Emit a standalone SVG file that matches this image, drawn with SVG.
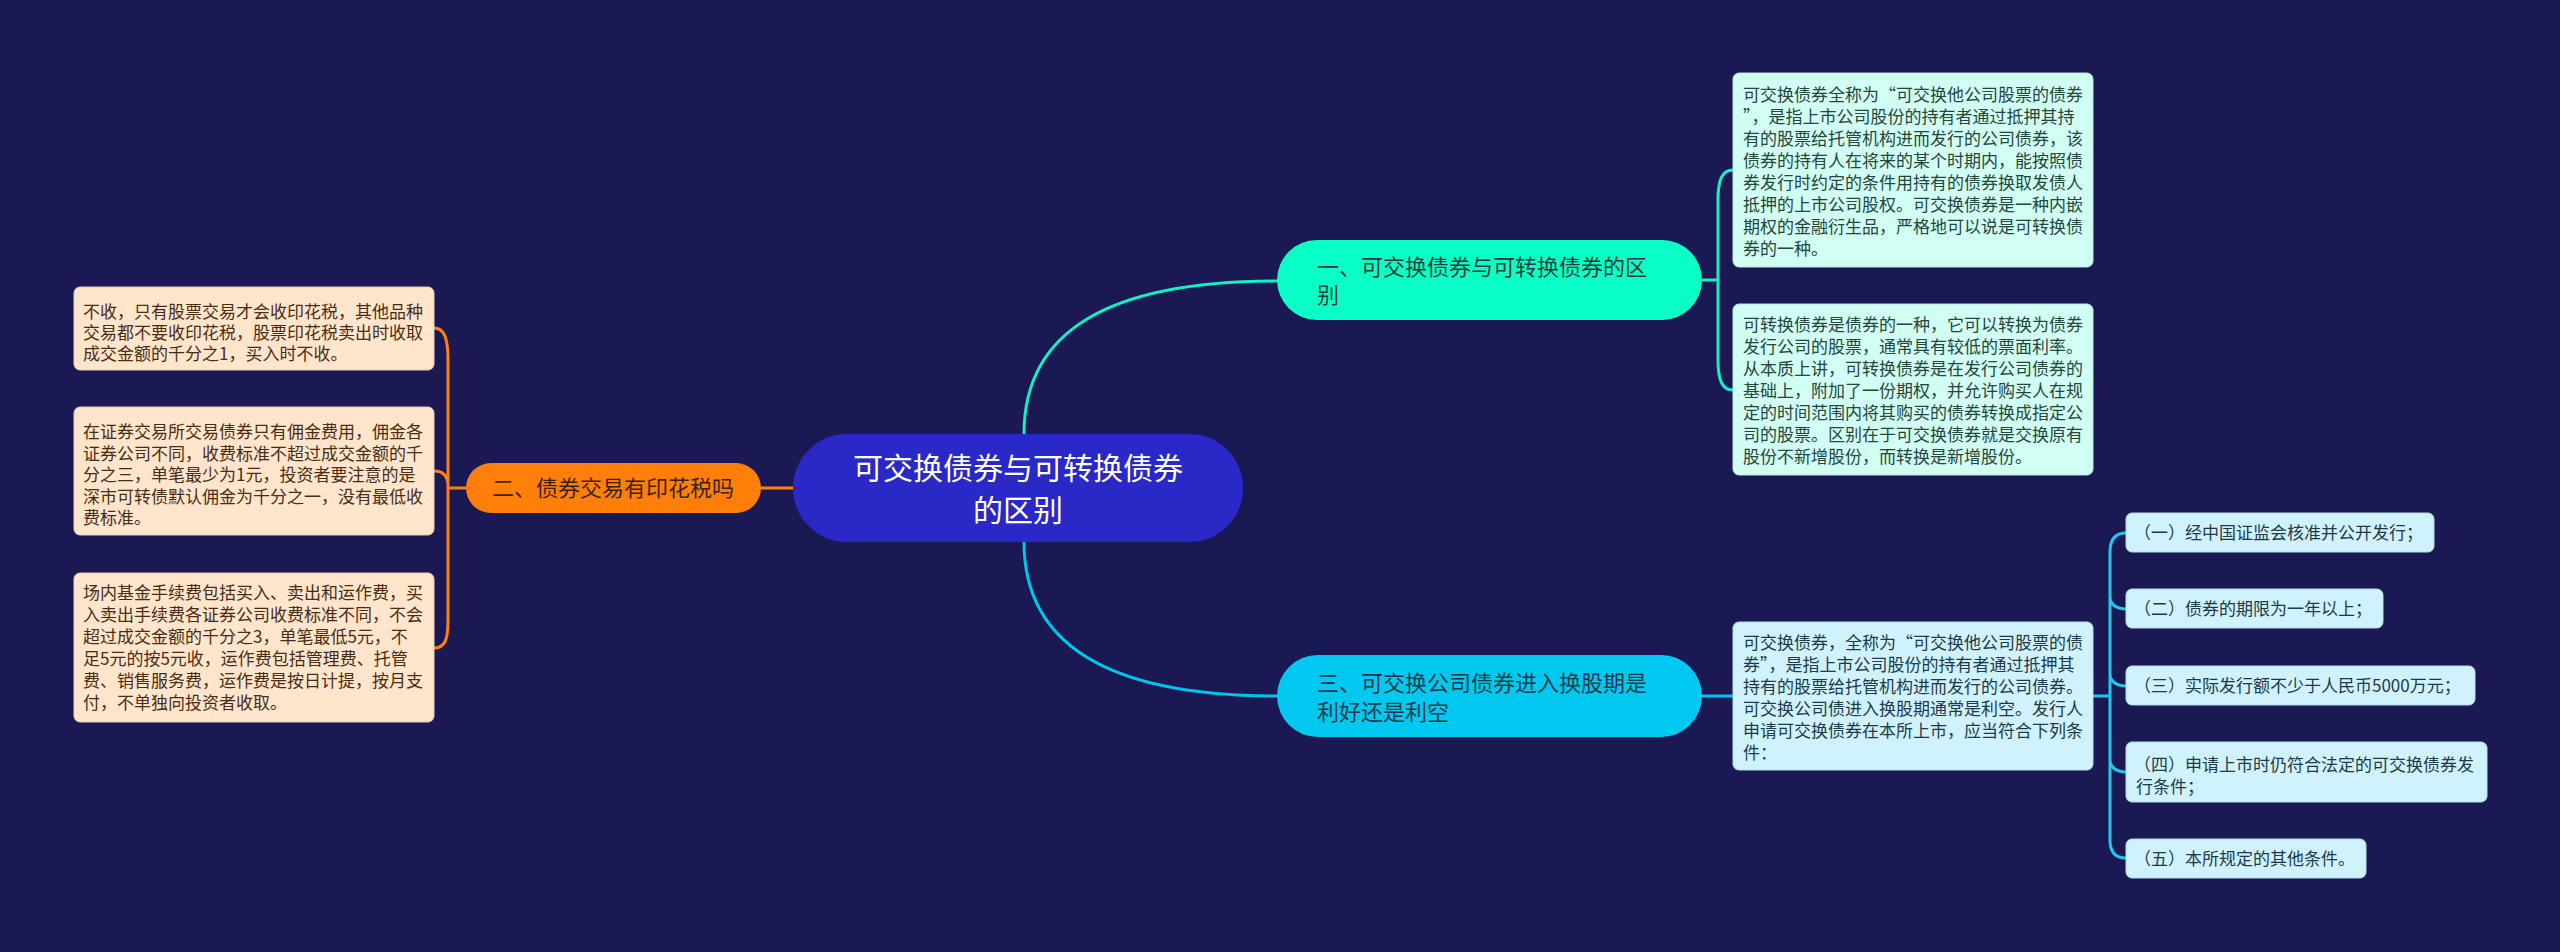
<svg xmlns="http://www.w3.org/2000/svg" width="2560" height="952" viewBox="0 0 2560 952">
<style>
text{font-family:"Noto Sans CJK SC","Noto Sans",sans-serif;}
.lt{font-size:17px;}
.mint{fill:#d2fff3;stroke:#b8eadb;stroke-width:1}
.blue{fill:#d0f2fc;stroke:#b4dcea;stroke-width:1}
.peach{fill:#ffe5cc;stroke:#ecccae;stroke-width:1}
.tm{fill:#24463c}
.tb{fill:#1d3a48}
.tp{fill:#4a2c12}
.c{fill:none;stroke-width:3;stroke-linecap:round}
</style>
<rect width="2560" height="952" fill="#1b1953"/>
<g id="connectors">
<path class="c" stroke="#12f0c6" d="M1024,434 C1024,330 1110,281 1277,281"/>
<path class="c" stroke="#00c4ee" d="M1024,542 C1024,646 1110,696 1277,696"/>
<path class="c" stroke="#ff8010" d="M793,488 L761,488"/>
<path class="c" stroke="#12f0c6" d="M1702,280 L1718,280 M1733,170 C1722,170 1718,180 1718,200 L1718,360 C1718,380 1722,390 1733,390"/>
<path class="c" stroke="#00c4ee" d="M1702,696 L1733,696"/>
<path class="c" stroke="#1ec8f0" d="M2093,696 L2110,696 M2126,533 C2115,533 2110,540 2110,552 L2110,840 C2110,852 2115,858 2126,858 M2110,597 C2110,603 2115,609 2126,609 M2110,674 C2110,680 2115,686 2126,686 M2110,760 C2110,766 2115,772 2126,772"/>
<path class="c" stroke="#ff8010" d="M466,488 L448,488 M434,328 C445,328 448,340 448,360 L448,620 C448,640 445,648 434,648 M434,471 C443,471 448,476 448,486"/>
</g>
<g id="center">
<rect x="793" y="434" width="450" height="108" rx="54" fill="#2a28c6"/>
<text x="1018" y="479" font-size="30" fill="#ffffff" text-anchor="middle">可交换债券与可转换债券</text>
<text x="1018" y="521" font-size="30" fill="#ffffff" text-anchor="middle">的区别</text>
</g>
<g id="branch1">
<rect x="1277" y="240" width="425" height="80" rx="40" fill="#0affc6"/>
<text x="1317" y="275" font-size="22" fill="#1f3d38">一、可交换债券与可转换债券的区</text>
<text x="1317" y="303" font-size="22" fill="#1f3d38">别</text>
</g>
<g id="branch2">
<rect x="466" y="463" width="295" height="50" rx="25" fill="#ff7f0a"/>
<text x="492" y="496" font-size="22" fill="#3d2208">二、债券交易有印花税吗</text>
</g>
<g id="branch3">
<rect x="1277" y="655" width="425" height="82" rx="41" fill="#00c8f0"/>
<text x="1317" y="691" font-size="22" fill="#173a46">三、可交换公司债券进入换股期是</text>
<text x="1317" y="720" font-size="22" fill="#173a46">利好还是利空</text>
</g>
<g id="leaf-r1">
<rect class="mint" x="1733" y="73" width="360" height="194" rx="6"/>
<text class="lt tm" x="1743">
<tspan x="1743" y="101">可交换债券全称为“可交换他公司股票的债券</tspan>
<tspan x="1743" y="123">”，是指上市公司股份的持有者通过抵押其持</tspan>
<tspan x="1743" y="145">有的股票给托管机构进而发行的公司债券，该</tspan>
<tspan x="1743" y="167">债券的持有人在将来的某个时期内，能按照债</tspan>
<tspan x="1743" y="189">券发行时约定的条件用持有的债券换取发债人</tspan>
<tspan x="1743" y="211">抵押的上市公司股权。可交换债券是一种内嵌</tspan>
<tspan x="1743" y="233">期权的金融衍生品，严格地可以说是可转换债</tspan>
<tspan x="1743" y="255">券的一种。</tspan>
</text>
</g>
<g id="leaf-r2">
<rect class="mint" x="1733" y="304" width="360" height="171" rx="6"/>
<text class="lt tm">
<tspan x="1743" y="331">可转换债券是债券的一种，它可以转换为债券</tspan>
<tspan x="1743" y="353">发行公司的股票，通常具有较低的票面利率。</tspan>
<tspan x="1743" y="375">从本质上讲，可转换债券是在发行公司债券的</tspan>
<tspan x="1743" y="397">基础上，附加了一份期权，并允许购买人在规</tspan>
<tspan x="1743" y="419">定的时间范围内将其购买的债券转换成指定公</tspan>
<tspan x="1743" y="441">司的股票。区别在于可交换债券就是交换原有</tspan>
<tspan x="1743" y="463">股份不新增股份，而转换是新增股份。</tspan>
</text>
</g>
<g id="leaf-r3">
<rect class="blue" x="1733" y="622" width="360" height="148" rx="6"/>
<text class="lt tb">
<tspan x="1743" y="649">可交换债券，全称为“可交换他公司股票的债</tspan>
<tspan x="1743" y="671">券”，是指上市公司股份的持有者通过抵押其</tspan>
<tspan x="1743" y="693">持有的股票给托管机构进而发行的公司债券。</tspan>
<tspan x="1743" y="715">可交换公司债进入换股期通常是利空。发行人</tspan>
<tspan x="1743" y="737">申请可交换债券在本所上市，应当符合下列条</tspan>
<tspan x="1743" y="759">件：</tspan>
</text>
</g>
<g id="cond1">
<rect class="blue" x="2126" y="513" width="308" height="39" rx="6"/>
<text class="lt tb" x="2134" y="539">（一）经中国证监会核准并公开发行；</text>
</g>
<g id="cond2">
<rect class="blue" x="2126" y="589" width="257" height="39" rx="6"/>
<text class="lt tb" x="2134" y="615">（二）债券的期限为一年以上；</text>
</g>
<g id="cond3">
<rect class="blue" x="2126" y="666" width="349" height="39" rx="6"/>
<text class="lt tb" x="2134" y="692">（三）实际发行额不少于人民币5000万元；</text>
</g>
<g id="cond4">
<rect class="blue" x="2126" y="742" width="361" height="60" rx="6"/>
<text class="lt tb"><tspan x="2134" y="771">（四）申请上市时仍符合法定的可交换债券发</tspan><tspan x="2136" y="793">行条件；</tspan></text>
</g>
<g id="cond5">
<rect class="blue" x="2126" y="839" width="240" height="39" rx="6"/>
<text class="lt tb" x="2134" y="865">（五）本所规定的其他条件。</text>
</g>
<g id="leaf-l1">
<rect class="peach" x="74" y="287" width="360" height="83" rx="6"/>
<text class="lt tp">
<tspan x="83" y="318">不收，只有股票交易才会收印花税，其他品种</tspan>
<tspan x="83" y="339">交易都不要收印花税，股票印花税卖出时收取</tspan>
<tspan x="83" y="360">成交金额的千分之1，买入时不收。</tspan>
</text>
</g>
<g id="leaf-l2">
<rect class="peach" x="74" y="407" width="360" height="128" rx="6"/>
<text class="lt tp">
<tspan x="83" y="438">在证券交易所交易债券只有佣金费用，佣金各</tspan>
<tspan x="83" y="459.5">证券公司不同，收费标准不超过成交金额的千</tspan>
<tspan x="83" y="481">分之三，单笔最少为1元，投资者要注意的是</tspan>
<tspan x="83" y="502.5">深市可转债默认佣金为千分之一，没有最低收</tspan>
<tspan x="83" y="524">费标准。</tspan>
</text>
</g>
<g id="leaf-l3">
<rect class="peach" x="74" y="573" width="360" height="149" rx="6"/>
<text class="lt tp">
<tspan x="83" y="599">场内基金手续费包括买入、卖出和运作费，买</tspan>
<tspan x="83" y="621">入卖出手续费各证券公司收费标准不同，不会</tspan>
<tspan x="83" y="643">超过成交金额的千分之3，单笔最低5元，不</tspan>
<tspan x="83" y="665">足5元的按5元收，运作费包括管理费、托管</tspan>
<tspan x="83" y="687">费、销售服务费，运作费是按日计提，按月支</tspan>
<tspan x="83" y="709">付，不单独向投资者收取。</tspan>
</text>
</g>
</svg>
